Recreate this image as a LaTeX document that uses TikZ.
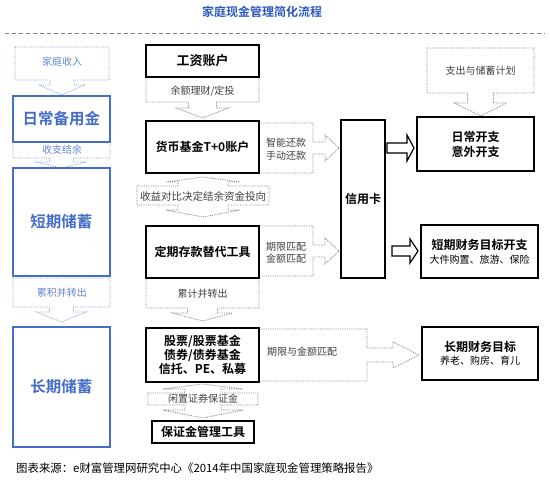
\documentclass[tikz,border=0pt]{standalone}
\usepackage{fontspec}
\setmainfont{Noto Sans CJK SC}[BoldFont={Noto Sans CJK SC Bold}]
\usetikzlibrary{positioning}

\definecolor{titleblue}{RGB}{45,90,190}
\definecolor{boxblue}{RGB}{70,110,200}
\definecolor{callblue}{RGB}{130,160,215}

\tikzset{
  solidbox/.style={draw=black, line width=1.3pt, fill=white, inner sep=0pt, align=center,
                   font=\bfseries\fontsize{12}{15}\selectfont},
  bluebox/.style={draw=boxblue, line width=1.3pt, fill=white, inner sep=0pt, text=boxblue,
                  font=\bfseries\fontsize{15.5}{18}\selectfont},
  calltext/.style={inner sep=0pt, align=center, text=black!75, font=\fontsize{10}{12.5}\selectfont},
  bluetext/.style={calltext, text=boxblue!85},
  dotcall/.style={draw=gray, densely dotted, line width=0.8pt, fill=white},
  bluecall/.style={draw=callblue, densely dotted, line width=0.8pt, fill=white},
  hollow/.style={draw=black, line width=1.2pt, fill=white, line join=miter}
}

% flecha hacia abajo: estilo, x1, y1, x2, y2, fin del tallo, punta, medio tallo, media punta
\newcommand{\calldown}[9]{%
  \draw[#1] (#2,#3) -- (#4,#3) -- (#4,#5) -- (0.5*#2+0.5*#4+#8,#5) -- (0.5*#2+0.5*#4+#8,#6)
    -- (0.5*#2+0.5*#4+#9,#6) -- (0.5*#2+0.5*#4,#7) -- (0.5*#2+0.5*#4-#9,#6)
    -- (0.5*#2+0.5*#4-#8,#6) -- (0.5*#2+0.5*#4-#8,#5) -- (#2,#5) -- cycle;}
% flecha hacia la derecha: estilo, x1, y1, x2, y2, fin del tallo, punta, medio tallo, media punta
\newcommand{\callright}[9]{%
  \draw[#1] (#2,#3) -- (#4,#3) -- (#4,0.5*#3+0.5*#5-#8) -- (#6,0.5*#3+0.5*#5-#8)
    -- (#6,0.5*#3+0.5*#5-#9) -- (#7,0.5*#3+0.5*#5) -- (#6,0.5*#3+0.5*#5+#9)
    -- (#6,0.5*#3+0.5*#5+#8) -- (#4,0.5*#3+0.5*#5+#8) -- (#4,#5) -- (#2,#5) -- cycle;}

\begin{document}
\begin{tikzpicture}[x=1pt, y=-1pt]
  \useasboundingbox (0,0) rectangle (550,481);

  % Titulo y linea
  \node[text=titleblue, font=\bfseries\fontsize{12}{14}\selectfont] (title) at (262,12) {家庭现金管理简化流程};
  \draw[gray, line width=0.8pt, dash pattern=on 4pt off 3pt] (5,33) -- (545,33);

  % Columna izquierda: flechas punteadas
  \calldown{bluecall}{15}{47}{109}{80}{85}{95}{12}{23}
  \calldown{bluecall}{13}{142}{110}{158}{162}{168}{12}{25}
  \calldown{bluecall}{13}{278}{110}{307}{312}{322}{12}{25}
  \node[bluetext] (income) at (62,62) {家庭收入};
  \node[bluetext] (surplus) at (62,150) {收支结余};
  \node[bluetext] (accum) at (62,293) {累积并转出};

  % Columna izquierda: cajas azules
  \node[bluebox, minimum width=97pt, minimum height=46pt] (dailyfund) at (61.5,119) {日常备用金};
  \node[bluebox, minimum width=97pt, minimum height=108pt] (shortsave) at (61.5,222) {短期储蓄};
  \node[bluebox, minimum width=97pt, minimum height=120pt] (longsave) at (61.5,387) {长期储蓄};

  % Columna central: flechas punteadas
  \calldown{dotcall}{146}{77}{259}{102}{108}{118}{14}{26}
  \calldown{dotcall}{146}{278}{259}{308}{313}{321}{15}{30}
  \callright{dotcall}{259}{123}{313}{173}{325}{339}{6}{13}
  \callright{dotcall}{259}{226}{313}{276}{325}{339}{6}{13}
  \callright{dotcall}{259}{329}{367}{381}{393}{419}{7}{13}
  % doble flecha entre fondos
  \draw[dotcall] (137,186) -- (178,186) -- (178,182) -- (166,182) -- (203,177) -- (240,182)
    -- (228,182) -- (228,186) -- (269,186) -- (269,205) -- (228,205) -- (228,210) -- (240,210)
    -- (203,217) -- (166,210) -- (178,210) -- (178,205) -- (137,205) -- cycle;
  % doble flecha del saldo de valores
  \draw[dotcall] (148,393) -- (185,393) -- (185,389) -- (163,389) -- (203,384) -- (243,389)
    -- (221,389) -- (221,393) -- (258,393) -- (258,405) -- (221,405) -- (221,410) -- (243,410)
    -- (203,418) -- (163,410) -- (185,410) -- (185,405) -- (148,405) -- cycle;

  \node[calltext] (invest) at (202.5,91) {余额理财/定投};
  \node[calltext, font=\fontsize{10.5}{12}\selectfont] (compare) at (203,196) {收益对比决定结余资金投向};
  \node[calltext] (transfer) at (202.5,294) {累计并转出};
  \node[calltext] (idle) at (203,399) {闲置证券保证金};
  \node[calltext] (repay) at (286,149) {智能还款\\手动还款};
  \node[calltext] (match) at (286,253) {期限匹配\\金额匹配};
  \node[calltext, anchor=west] (matchlong) at (267,352) {期限与金额匹配};

  % Columna central: cajas
  \node[solidbox, minimum width=113pt, minimum height=32pt, font=\bfseries\fontsize{13}{15}\selectfont] (wage) at (202.5,61) {工资账户};
  \node[solidbox, minimum width=113pt, minimum height=52pt] (mmf) at (202.5,147) {货币基金T+0账户};
  \node[solidbox, minimum width=113pt, minimum height=52pt] (fixed) at (202.5,252) {定期存款替代工具};
  \node[solidbox, minimum width=113pt, minimum height=54pt, font=\bfseries\fontsize{12}{14}\selectfont] (stocks) at (202.5,355) {股票/股票基金\\债券/债券基金\\信托、PE、私募};
  \node[solidbox, minimum width=102pt, minimum height=22pt] (margin) at (203,432) {保证金管理工具};

  % Tarjeta de credito
  \node[solidbox, minimum width=44pt, minimum height=158pt] (card) at (363,199) {信用卡};

  % Columna derecha
  \calldown{dotcall}{427}{48}{534}{93}{103}{116}{13}{26}
  \node[calltext] (plan) at (480.5,71) {支出与储蓄计划};
  \node[solidbox, minimum width=117pt, minimum height=54pt] (daily) at (475.5,144) {日常开支\\意外开支};
  \node[solidbox, minimum width=117pt, minimum height=53pt] (shortgoal) at (479.5,251.5)
    {短期财务目标开支\\[-1pt]{\mdseries\fontsize{10}{12}\selectfont 大件购置、旅游、保险}};
  \node[solidbox, minimum width=116pt, minimum height=53pt] (longgoal) at (480,353.5)
    {长期财务目标\\[-2pt]{\mdseries\fontsize{10}{12}\selectfont 养老、购房、育儿}};

  % Flechas huecas desde la tarjeta
  \draw[hollow] (387,143) -- (407,143) -- (407,135) -- (414,148) -- (407,161) -- (407,153) -- (387,153) -- cycle;
  \draw[hollow] (392,246) -- (410,246) -- (410,239) -- (418,251) -- (410,263) -- (410,256) -- (392,256) -- cycle;

  % Fuente
  \node[anchor=west, inner sep=0pt, font=\fontsize{11.4}{13}\selectfont] (source) at (16,468)
    {图表来源：e财富管理网研究中心《2014年中国家庭现金管理策略报告》};
\end{tikzpicture}
\end{document}
